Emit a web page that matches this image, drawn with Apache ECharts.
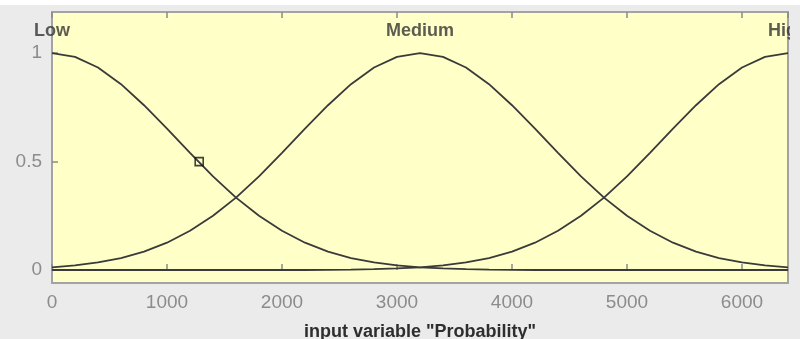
<!DOCTYPE html>
<html>
<head>
<meta charset="utf-8">
<script src="https://cdn.jsdelivr.net/npm/echarts@6/dist/echarts.min.js"></script>
<style>
html,body{margin:0;padding:0;background:#ebebeb;}
#c{width:800px;height:339px;}
</style>
</head>
<body>
<div id="c"></div>
<script>
var xs = [0,200,400,600,800,1000,1200,1400,1600,1800,2000,2200,2400,2600,2800,3000,3200,3400,3600,3800,4000,4200,4400,4600,4800,5000,5200,5400,5600,5800,6000,6200,6400];
var lowVals = [1,0.983,0.934,0.857,0.760,0.652,0.540,0.432,0.334,0.250,0.181,0.126,0.085,0.055,0.035,0.021,0.0125,0.007,0.004,0.002,0.001,0,0,0,0,0,0,0,0,0,0,0,0];
var mediumVals = [0.0125,0.021,0.035,0.055,0.085,0.126,0.181,0.250,0.334,0.432,0.540,0.652,0.760,0.857,0.934,0.983,1,0.983,0.934,0.857,0.760,0.652,0.540,0.432,0.334,0.250,0.181,0.126,0.085,0.055,0.035,0.021,0.0125];
var highVals = [0,0,0,0,0,0,0,0,0,0,0,0,0.001,0.002,0.004,0.007,0.0125,0.021,0.035,0.055,0.085,0.126,0.181,0.250,0.334,0.432,0.540,0.652,0.760,0.857,0.934,0.983,1];
var mfNames = ['Low','Medium','High'];
var mfCenters = [0,3200,6400];
var markerPoint = [1280,0.5];
var yTicks = [0,0.5,1];
var xName = 'input variable "Probability"';

function pairs(v){ return xs.map(function(x,i){ return [x, v[i]]; }); }

var lineStyle = {color:'#3a3a3a', width:1.8};
var chart = echarts.init(document.getElementById('c'));
chart.setOption({
  backgroundColor:'#ebebeb',
  animation:false,
  grid:{left:52,right:12,top:12,bottom:56,outerBoundsMode:'none',containLabel:false,show:true,backgroundColor:'#ffffc8',borderColor:'#a3a3a3',borderWidth:2},
  xAxis:[{
    type:'value',min:0,max:6400,interval:1000,
    axisLine:{show:false},
    axisTick:{show:true,inside:true,length:6,lineStyle:{color:'#8a8a8a',width:1.5}},
    axisLabel:{color:'#8c8c8c',fontFamily:'Liberation Sans, Arial',fontSize:19,margin:10,showMaxLabel:false,
      formatter:function(v){return String(v);}},
    splitLine:{show:false},
    name:xName,nameLocation:'middle',nameGap:40,
    nameTextStyle:{color:'#2e2e2e',fontFamily:'Liberation Sans, Arial',fontSize:18,fontWeight:'bold'}
  },{
    type:'value',position:'top',min:0,max:6400,interval:1000,
    axisLine:{show:false},
    axisTick:{show:true,inside:true,length:6,lineStyle:{color:'#8a8a8a',width:1.5}},
    axisLabel:{show:false},splitLine:{show:false}
  }],
  yAxis:{
    type:'value',min:-0.06,max:1.19,
    axisLine:{show:false},
    axisTick:{show:true,inside:true,length:6,customValues:yTicks,lineStyle:{color:'#8a8a8a',width:1.5}},
    axisLabel:{color:'#8c8c8c',fontFamily:'Liberation Sans, Arial',fontSize:19,margin:10,customValues:yTicks,
      formatter:function(v){return String(v);}},
    splitLine:{show:false}
  },
  series:[
    {type:'line',data:pairs(lowVals),showSymbol:false,lineStyle:lineStyle,z:3},
    {type:'line',data:pairs(mediumVals),showSymbol:false,lineStyle:lineStyle,z:3},
    {type:'line',data:pairs(highVals),showSymbol:false,lineStyle:lineStyle,z:3},
    {type:'scatter',data:[markerPoint],symbol:'rect',symbolSize:8,
      itemStyle:{color:'rgba(0,0,0,0)',borderColor:'#111',borderWidth:1.6},z:5},
    {type:'scatter',symbolSize:0,silent:true,
      data:mfCenters.map(function(c,i){return {value:[c,1.1],name:mfNames[i]};}),
      label:{show:true,position:'inside',formatter:'{b}',color:'#333',
        fontFamily:'Liberation Sans, Arial',fontSize:18,fontWeight:'bold'},z:4}
  ],
  graphic:[
    {type:'rect',shape:{x:790,y:0,width:10,height:339},style:{fill:'#ebebeb'},z:100},
    {type:'rect',shape:{x:0,y:0,width:800,height:5},style:{fill:'#ffffff'},z:100}
  ]
});
</script>
</body>
</html>
